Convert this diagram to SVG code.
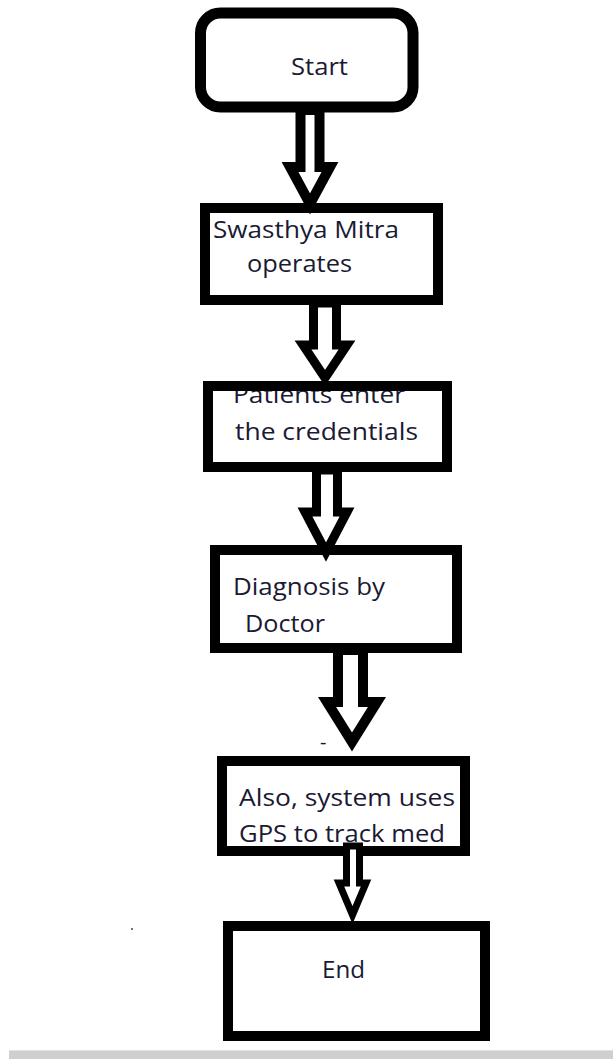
<svg xmlns="http://www.w3.org/2000/svg" width="613" height="1059" viewBox="0 0 613 1059">
<style>
.bg{fill:#ffffff}
.fill{fill:#ffffff;stroke:none}
.border{fill:none;stroke:#000;stroke-width:10}
.lbl{font-family:"Open Sans","Noto Sans","Liberation Sans",sans-serif;font-size:24px;fill:#1a1a33}
.arrow{fill:#ffffff;stroke:#000;stroke-width:10;stroke-linejoin:miter;stroke-miterlimit:3}
</style>
<rect class="bg" x="0" y="0" width="613" height="1059"/>

<g id="node-start">
<rect class="fill" x="200.5" y="13" width="212.5" height="94" rx="20"/>
<text class="lbl" x="291" y="75" textLength="57" lengthAdjust="spacingAndGlyphs">Start</text>
<rect class="border" x="200.5" y="13" width="212.5" height="94" rx="20" style="stroke-width:11"/>
</g>

<g id="node-swasthya">
<rect class="fill" x="205" y="208" width="233" height="92"/>
<text class="lbl" x="213" y="238" textLength="186" lengthAdjust="spacingAndGlyphs">Swasthya Mitra</text>
<text class="lbl" x="247" y="272" textLength="105" lengthAdjust="spacingAndGlyphs">operates</text>
<rect class="border" x="205" y="208" width="233" height="92"/>
</g>

<g id="node-patients">
<rect class="fill" x="208" y="386" width="239" height="81"/>
<text class="lbl" x="233" y="403" textLength="172" lengthAdjust="spacingAndGlyphs">Patients enter</text>
<text class="lbl" x="235" y="440" textLength="183" lengthAdjust="spacingAndGlyphs">the credentials</text>
<rect class="border" x="208" y="386" width="239" height="81"/>
</g>

<g id="node-diagnosis">
<rect class="fill" x="215" y="550" width="242" height="98"/>
<text class="lbl" x="233" y="595" textLength="152" lengthAdjust="spacingAndGlyphs">Diagnosis by</text>
<text class="lbl" x="245" y="632" textLength="80" lengthAdjust="spacingAndGlyphs">Doctor</text>
<rect class="border" x="215" y="550" width="242" height="98"/>
</g>

<g id="node-gps">
<rect class="fill" x="222" y="761" width="243" height="90"/>
<text class="lbl" x="239" y="806" textLength="216" lengthAdjust="spacingAndGlyphs">Also, system uses</text>
<text class="lbl" x="239" y="842" textLength="206" lengthAdjust="spacingAndGlyphs">GPS to track med</text>
<rect class="border" x="222" y="761" width="243" height="90"/>
</g>

<g id="node-end">
<rect class="fill" x="228" y="926" width="257" height="110"/>
<text class="lbl" x="322" y="978" textLength="43" lengthAdjust="spacingAndGlyphs">End</text>
<rect class="border" x="228" y="926" width="257" height="110"/>
</g>

<g id="connectors">
<polygon class="arrow" points="300.5,110 300.5,167 290,167 310,204 330,167 319.5,167 319.5,110"/>
<polygon class="arrow" points="313.5,303 313.5,345 303,345 325,378 347,345 336.5,345 336.5,303" style="stroke-width:9"/>
<polygon class="arrow" points="316.5,470 316.5,512 305,512 326,552 347,512 337.5,512 337.5,470" style="stroke-width:9"/>
<polygon class="arrow" points="338,650 338,702 327,702 352,742 377,702 363,702 363,650"/>
<polygon class="arrow" points="346.5,846 346.5,883 339,883 352.5,915 366,883 359.5,883 359.5,846" style="stroke-width:7"/>
</g>

<text class="lbl" x="320" y="749" style="font-size:20px">-</text>
<circle cx="132" cy="929" r="1" fill="#444"/>

<rect x="9" y="1050" width="604" height="9" fill="#cfcfcf"/>
<rect x="9" y="1050" width="604" height="1" fill="#e2e2e2"/>
</svg>
